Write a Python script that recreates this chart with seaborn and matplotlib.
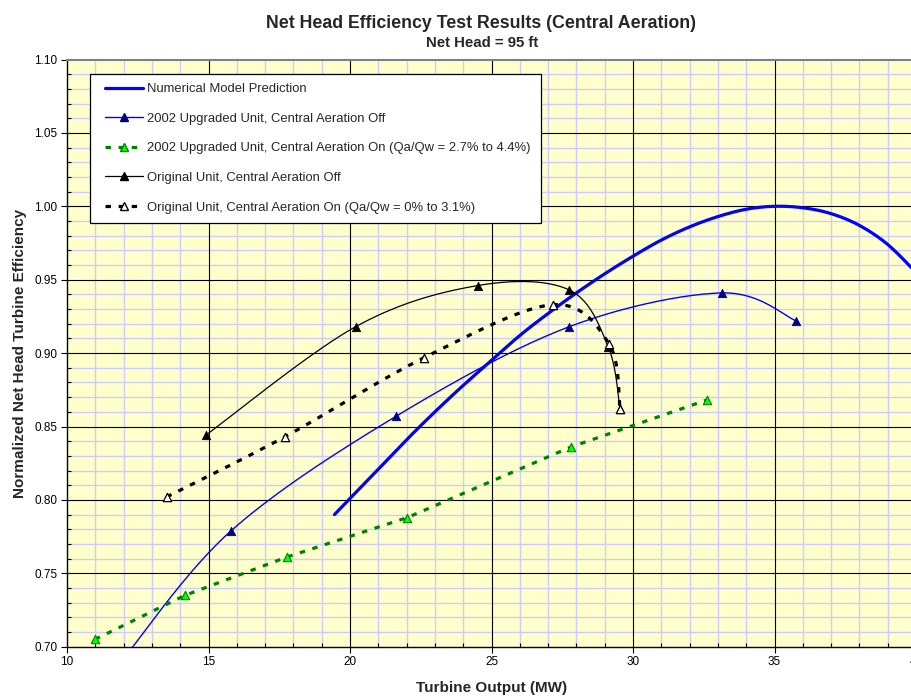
import numpy as np
import pandas as pd
import matplotlib
matplotlib.use("Agg")
import matplotlib.pyplot as plt
import seaborn as sns
from matplotlib.ticker import MultipleLocator, FormatStrFormatter
from matplotlib.lines import Line2D
from matplotlib.patches import Rectangle

sns.set_theme(style="white")
plt.rcParams['font.family'] = ['Liberation Sans', 'DejaVu Sans']

# ---- data -------------------------------------------------------------
model_x = [19.45, 20, 21, 22, 23, 24, 25, 26, 27, 28, 29, 30, 31, 32, 33, 34, 35, 36, 37, 38, 39, 40]
model_y = [0.790, 0.801, 0.821, 0.841, 0.860, 0.878, 0.895, 0.912, 0.927, 0.941, 0.954,
           0.966, 0.977, 0.986, 0.993, 0.998, 1.000, 0.999, 0.995, 0.987, 0.974, 0.955]

upg_off_x = [15.8, 21.63, 27.75, 33.15, 35.76]
upg_off_y = [0.779, 0.857, 0.918, 0.941, 0.922]
upg_off_lead_x = [12.0]          # curve continues below the axis floor
upg_off_lead_y = [0.692]

upg_on_x = [10.99, 14.17, 17.76, 22.03, 27.80, 32.6]
upg_on_y = [0.705, 0.735, 0.761, 0.788, 0.836, 0.868]

orig_off_x = [14.9, 20.2, 24.51, 27.75, 29.13, 29.54]
orig_off_y = [0.844, 0.918, 0.946, 0.943, 0.904, 0.862]

orig_on_x = [13.52, 17.7, 22.63, 27.17, 29.16, 29.54]
orig_on_y = [0.802, 0.843, 0.897, 0.933, 0.906, 0.862]

labels = [
    "Numerical Model Prediction",
    "2002 Upgraded Unit, Central Aeration Off",
    "2002 Upgraded Unit, Central Aeration On (Qa/Qw = 2.7% to 4.4%)",
    "Original Unit, Central Aeration Off",
    "Original Unit, Central Aeration On (Qa/Qw = 0% to 3.1%)",
]

X_LIM = (10, 40)
Y_LIM = (0.70, 1.10)


def smooth(xs, ys, n=40):
    """Bezier smoothing (Catmull-Rom form) computed in normalised axis space."""
    sx = (X_LIM[1] - X_LIM[0])
    sy = (Y_LIM[1] - Y_LIM[0]) * 849 / 587
    p = np.column_stack([np.asarray(xs, float) / sx, np.asarray(ys, float) / sy])
    m = len(p)
    out = []
    for i in range(m - 1):
        p0 = p[i - 1] if i > 0 else p[i]
        p1, p2 = p[i], p[i + 1]
        p3 = p[i + 2] if i + 2 < m else p[i + 1]
        c1 = p1 + (p2 - p0) / 6.0
        c2 = p2 - (p3 - p1) / 6.0
        t = np.linspace(0, 1, n)[:, None]
        seg = ((1 - t) ** 3) * p1 + 3 * ((1 - t) ** 2) * t * c1 + 3 * (1 - t) * t ** 2 * c2 + t ** 3 * p2
        out.append(seg if i == 0 else seg[1:])
    pts = np.vstack(out)
    return pts[:, 0] * sx, pts[:, 1] * sy


# ---- figure -----------------------------------------------------------
fig = plt.figure(figsize=(9.11, 6.98), dpi=100)
ax = fig.add_axes([67 / 911, 51.3 / 698, 849 / 911, 587.2 / 698])
ax.set_facecolor("#ffffcc")

# grid: light minor lines underneath, black major lines over them
for gx in np.arange(11, 40, 1):
    if gx % 5:
        ax.axvline(gx, color="#ccccff", lw=1.0, zorder=0.2)
for gy in np.arange(71, 110, 1) / 100:
    if round(gy * 100) % 5:
        ax.axhline(gy, color="#ccccff", lw=1.0, zorder=0.2)
for gx in np.arange(15, 40, 5):
    ax.axvline(gx, color="black", lw=0.8, zorder=0.4)
for gy in np.arange(75, 110, 5) / 100:
    ax.axhline(gy, color="black", lw=0.8, zorder=0.4)

BLUE = "#0000ff"
NAVY = "#000080"
GREEN = "#008000"
DASH = (1.7, 2.4)

# numerical model
mx, my = smooth(model_x, model_y)
sns.lineplot(x=mx, y=my, ax=ax, sort=False, estimator=None, color=BLUE, lw=2.3, zorder=3)

# 2002 upgraded, aeration off
ux, uy = smooth(upg_off_lead_x + upg_off_x, upg_off_lead_y + upg_off_y)
sns.lineplot(x=ux, y=uy, ax=ax, sort=False, estimator=None, color=BLUE, lw=1.0, zorder=3)
sns.scatterplot(x=upg_off_x, y=upg_off_y, ax=ax, marker="^", s=36, color=NAVY,
                edgecolor=NAVY, linewidth=0.6, zorder=4)

# 2002 upgraded, aeration on
sns.lineplot(x=upg_on_x, y=upg_on_y, ax=ax, sort=False, estimator=None, color=GREEN,
             lw=2.3, zorder=3)
ax.lines[-1].set_dashes(DASH)
sns.scatterplot(x=upg_on_x, y=upg_on_y, ax=ax, marker="^", s=36, color="#00ff00",
                edgecolor=GREEN, linewidth=0.8, zorder=4)

# original, aeration off
ox, oy = smooth(orig_off_x, orig_off_y)
sns.lineplot(x=ox, y=oy, ax=ax, sort=False, estimator=None, color="black", lw=0.9, zorder=3)
sns.scatterplot(x=orig_off_x, y=orig_off_y, ax=ax, marker="^", s=36, color="black",
                edgecolor="black", linewidth=0.6, zorder=4)

# original, aeration on
nx, ny = smooth(orig_on_x, orig_on_y)
sns.lineplot(x=nx, y=ny, ax=ax, sort=False, estimator=None, color="black", lw=2.3, zorder=3)
ax.lines[-1].set_dashes(DASH)
sns.scatterplot(x=orig_on_x, y=orig_on_y, ax=ax, marker="^", s=36, color="white",
                edgecolor="black", linewidth=0.9, zorder=5)

# ---- axes styling -----------------------------------------------------
ax.set_xlim(*X_LIM)
ax.set_ylim(*Y_LIM)
ax.xaxis.set_major_locator(MultipleLocator(5))
ax.xaxis.set_minor_locator(MultipleLocator(1))
ax.yaxis.set_major_locator(MultipleLocator(0.05))
ax.yaxis.set_minor_locator(MultipleLocator(0.01))
ax.yaxis.set_major_formatter(FormatStrFormatter("%.2f"))
ax.grid(False)

ax.tick_params(which="major", direction="out", length=4, width=0.8, color="black",
               labelsize=8.5, labelcolor="black", pad=3, left=True, bottom=True)
ax.tick_params(which="minor", direction="in", length=3, width=0.8, color="black",
               left=True, bottom=True)

for side in ("left", "bottom"):
    ax.spines[side].set_color("black")
    ax.spines[side].set_linewidth(1.0)
ax.spines["top"].set_color("#808080")
ax.spines["top"].set_linewidth(1.5)
ax.spines["right"].set_visible(False)

ax.set_xlabel("Turbine Output (MW)", fontsize=11, fontweight="bold", labelpad=9)
ax.set_ylabel("Normalized Net Head Turbine Efficiency", fontsize=11, fontweight="bold", labelpad=5.5)

# ---- legend -----------------------------------------------------------
ax.add_patch(Rectangle((23 / 849, (646.7 - 223) / 587.2), 451 / 849, 149 / 587.2,
                       transform=ax.transAxes, facecolor="white", edgecolor="black",
                       lw=0.9, zorder=9))
handles = [
    Line2D([], [], color=BLUE, lw=2.3),
    Line2D([], [], color=BLUE, lw=1.0, marker="^", ms=6, mfc=NAVY, mec=NAVY),
    Line2D([], [], color=GREEN, lw=2.3, dashes=DASH, marker="^", ms=6,
           mfc="#00ff00", mec=GREEN),
    Line2D([], [], color="black", lw=0.9, marker="^", ms=6, mfc="black", mec="black"),
    Line2D([], [], color="black", lw=2.3, dashes=DASH, marker="^", ms=6,
           mfc="white", mec="black"),
]
leg = ax.legend(handles, labels, loc="upper left",
                bbox_to_anchor=((105 - 67) / 849, (646.7 - 83) / 587.2),
                fontsize=9.4, frameon=False,
                handlelength=2.9, handletextpad=0.3, labelspacing=1.34,
                borderpad=0, borderaxespad=0)
leg.set_zorder(10)

# ---- titles -----------------------------------------------------------
fig.text(481 / 911, 1 - 23 / 698, "Net Head Efficiency Test Results (Central Aeration)",
         ha="center", va="center", fontsize=12.8, fontweight="bold")
fig.text(482 / 911, 1 - 43 / 698, "Net Head = 95 ft",
         ha="center", va="center", fontsize=10.8, fontweight="bold")

fig.savefig("out.png", dpi=100, facecolor="white")
